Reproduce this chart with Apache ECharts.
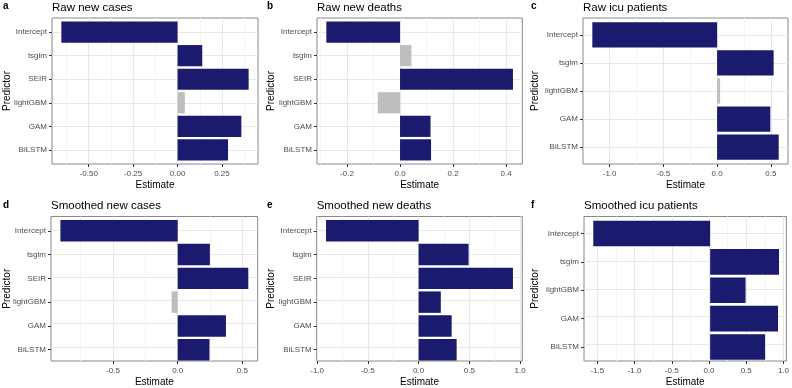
<!DOCTYPE html>
<html>
<head>
<meta charset="utf-8">
<script src="https://cdn.jsdelivr.net/npm/echarts@6/dist/echarts.min.js"></script>
<style>
  html, body { margin: 0; padding: 0; background: #fff; }
  #chart { width: 792px; height: 388px; }
</style>
</head>
<body>
<div id="chart"></div>
<script>
// predictors, top to bottom
const predictors6 = ['Intercept', 'tsglm', 'SEIR', 'lightGBM', 'GAM', 'BiLSTM'];
const predictors5 = ['Intercept', 'tsglm', 'lightGBM', 'GAM', 'BiLSTM'];

// estimates
const rawCases = [-0.654, 0.139, 0.400, 0.041, 0.359, 0.284];
const rawDeaths = [-0.278, 0.043, 0.426, -0.084, 0.115, 0.117];
const rawIcu = [-1.161, 0.526, 0.028, 0.495, 0.573];
const smoothCases = [-0.907, 0.249, 0.546, -0.047, 0.373, 0.246];
const smoothDeaths = [-0.912, 0.493, 0.930, 0.219, 0.326, 0.375];
const smoothIcu = [-1.555, 0.916, 0.471, 0.903, 0.731];

// 1 = significant (navy), 0 = not (grey)
const rawCasesSig = [1, 1, 1, 0, 1, 1];
const rawDeathsSig = [1, 0, 1, 0, 1, 1];
const rawIcuSig = [1, 1, 0, 1, 1];
const smoothCasesSig = [1, 1, 1, 0, 1, 1];
const smoothDeathsSig = [1, 1, 1, 1, 1, 1];
const smoothIcuSig = [1, 1, 1, 1, 1];

// x axis breaks
const ticksRawCases = [-0.5, -0.25, 0, 0.25];
const ticksRawDeaths = [-0.2, 0, 0.2, 0.4];
const ticksRawIcu = [-1, -0.5, 0, 0.5];
const ticksSmoothCases = [-0.5, 0, 0.5];
const ticksSmoothDeaths = [-1, -0.5, 0, 0.5, 1];
const ticksSmoothIcu = [-1.5, -1, -0.5, 0, 0.5, 1];

const FONT = '"Liberation Sans", Arial, sans-serif';
const NAVY = '#1a1a6e';
const GREY = '#bebebe';

const panels = [
  { tag: 'a', title: 'Raw new cases', cats: predictors6, vals: rawCases, sig: rawCasesSig, ticks: ticksRawCases,
    left: 52, width: 206, top: 18, height: 146, col: 0, titleTop: 1.5 },
  { tag: 'b', title: 'Raw new deaths', cats: predictors6, vals: rawDeaths, sig: rawDeathsSig, ticks: ticksRawDeaths,
    left: 317, width: 205.3, top: 18, height: 146, col: 264, titleTop: 1.5 },
  { tag: 'c', title: 'Raw icu patients', cats: predictors5, vals: rawIcu, sig: rawIcuSig, ticks: ticksRawIcu,
    left: 583, width: 205, top: 18, height: 146, col: 528, titleTop: 1.5 },
  { tag: 'd', title: 'Smoothed new cases', cats: predictors6, vals: smoothCases, sig: smoothCasesSig, ticks: ticksSmoothCases,
    left: 51, width: 206.7, top: 216.5, height: 147.5, col: 0, titleTop: 200 },
  { tag: 'e', title: 'Smoothed new deaths', cats: predictors6, vals: smoothDeaths, sig: smoothDeathsSig, ticks: ticksSmoothDeaths,
    left: 316.7, width: 205.6, top: 216.5, height: 147.5, col: 264, titleTop: 200 },
  { tag: 'f', title: 'Smoothed icu patients', cats: predictors5, vals: smoothIcu, sig: smoothIcuSig, ticks: ticksSmoothIcu,
    left: 584, width: 204.3, top: 216.5, height: 147.5, col: 528, titleTop: 200 },
];

const option = {
  animation: false,
  textStyle: { fontFamily: FONT },
  title: [],
  grid: [],
  xAxis: [],
  yAxis: [],
  series: [],
};

panels.forEach((p, k) => {
  const n = p.cats.length;
  // ggplot style: 5% expansion on the continuous axis, 0.6 on the discrete one
  const lo = Math.min(0, ...p.vals);
  const hi = Math.max(0, ...p.vals);
  const pad = (hi - lo) * 0.05;
  const min = lo - pad;
  const max = hi + pad;
  const unit = p.height / (n + 0.2);
  const dec = Math.max(...p.ticks.map(t => (String(t).split('.')[1] || '').length));
  const step = p.ticks[1] - p.ticks[0];
  const minors = [p.ticks[0] - step / 2].concat(p.ticks.map(t => t + step / 2));
  const centers = p.cats.map((c, i) => i + 0.6);

  const g = k * 2;
  option.title.push({
    text: p.tag, left: p.col + 3, top: p.titleTop, padding: 0,
    textStyle: { fontSize: 10, fontWeight: 'bold', color: '#000', fontFamily: FONT },
  });
  option.title.push({
    text: p.title, left: p.left, top: p.titleTop, padding: 0,
    textStyle: { fontSize: 11.5, fontWeight: 'normal', color: '#000', fontFamily: FONT },
  });

  // panel (border, gridlines, x labels)
  option.grid.push({
    left: p.left, top: p.top, width: p.width, height: p.height,
    show: true, borderColor: '#888', borderWidth: 1, backgroundColor: 'transparent',
  });
  // bars area (discrete expansion)
  option.grid.push({
    left: p.left, top: p.top + unit * 0.1, width: p.width, height: unit * n,
  });

  option.xAxis.push({
    type: 'value', gridIndex: g, position: 'bottom', min: min, max: max,
    axisLine: { show: false, onZero: false },
    axisTick: { show: true, length: 3, customValues: p.ticks, lineStyle: { color: '#333', width: 1 } },
    axisLabel: {
      customValues: p.ticks, fontSize: 8, color: '#4d4d4d', margin: 6,
      formatter: v => v.toFixed(dec),
    },
    splitLine: { show: true, lineStyle: { color: '#e8e8e8', width: 1 } },
    name: 'Estimate', nameLocation: 'middle', nameGap: 16,
    nameTextStyle: { fontSize: 10, color: '#000' },
  });
  option.xAxis.push({
    type: 'value', gridIndex: g, position: 'top', min: min, max: max,
    axisLine: { show: false, onZero: false },
    axisTick: { show: false, customValues: minors },
    axisLabel: { show: false },
    splitLine: { show: true, lineStyle: { color: '#f4f4f4', width: 1 } },
  });
  option.xAxis.push({
    type: 'value', gridIndex: g + 1, min: min, max: max, show: false,
  });

  option.yAxis.push({
    type: 'value', gridIndex: g, min: 0, max: n + 0.2,
    axisLine: { show: false, onZero: false },
    axisTick: { show: false, customValues: centers },
    axisLabel: { show: false },
    splitLine: { show: true, lineStyle: { color: '#e8e8e8', width: 1 } },
    name: 'Predictor', nameLocation: 'middle', nameGap: p.left - p.col - 12,
    nameTextStyle: { fontSize: 10, color: '#000' },
  });
  option.yAxis.push({
    type: 'category', gridIndex: g + 1, data: p.cats, inverse: true,
    axisLine: { show: false, onZero: false },
    axisTick: { show: true, alignWithLabel: true, length: 3, lineStyle: { color: '#333', width: 1 } },
    axisLabel: { fontSize: 8, color: '#4d4d4d', margin: 5 },
    splitLine: { show: false },
  });

  option.series.push({
    type: 'bar',
    xAxisIndex: k * 3 + 2,
    yAxisIndex: g + 1,
    barCategoryGap: '10%',
    data: p.vals.map((v, i) => ({ value: v, itemStyle: { color: p.sig[i] ? NAVY : GREY } })),
  });
});

const chart = echarts.init(document.getElementById('chart'), null, { renderer: 'canvas' });
chart.setOption(option);
</script>
</body>
</html>
